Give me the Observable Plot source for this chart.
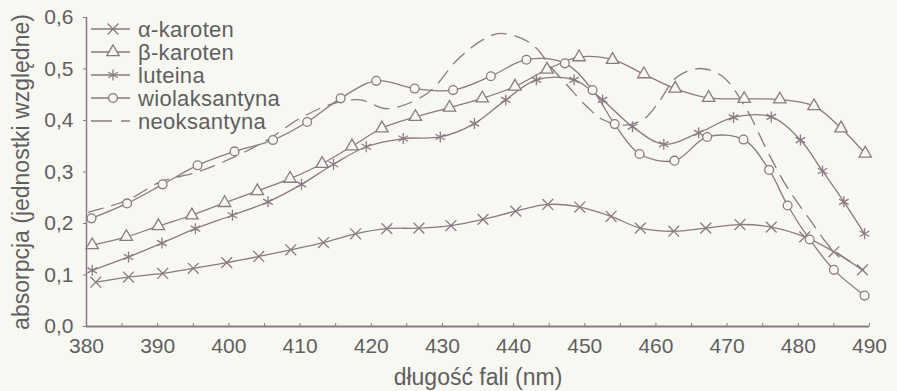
<!DOCTYPE html>
<html><head><meta charset="utf-8">
<script src="https://cdn.jsdelivr.net/npm/d3@7"></script>
<script src="https://cdn.jsdelivr.net/npm/@observablehq/plot@0.6"></script>
<style>
html,body{margin:0;padding:0;background:#f8f8f3;}
#chart{position:relative;width:897px;height:391px;overflow:hidden;}
#chart svg{display:block;}
#legend{position:absolute;left:0;top:0;}
</style></head><body><div id="chart"></div>
<script>
// ---- data (wavelength in nm, relative absorbance) ----
const alphaNm  = [381.3,385.9,390.7,395.0,399.7,404.2,408.7,413.3,417.8,422.2,426.7,431.2,435.7,440.3,444.8,449.3,453.7,457.8,462.5,467.0,471.8,476.2,480.9,485.0,489.0];
const alphaAbs = [0.086,0.096,0.103,0.113,0.124,0.136,0.149,0.163,0.180,0.190,0.191,0.196,0.208,0.224,0.237,0.232,0.214,0.191,0.185,0.191,0.198,0.193,0.174,0.145,0.110];

const betaNm   = [380.8,385.6,390.1,394.8,399.4,404.0,408.6,413.1,417.3,421.5,426.2,431.0,435.6,440.2,444.7,449.2,453.9,458.3,462.7,467.4,472.4,477.4,482.2,486.0,489.4];
const betaAbs  = [0.158,0.174,0.195,0.216,0.240,0.263,0.287,0.316,0.350,0.385,0.407,0.425,0.443,0.466,0.499,0.523,0.518,0.490,0.462,0.444,0.442,0.441,0.428,0.385,0.336];

const lutNm    = [380.8,385.9,390.6,395.3,400.5,405.5,410.2,414.7,419.3,424.5,429.7,434.5,438.9,443.2,448.5,452.5,456.7,461.1,466.0,470.9,476.2,480.3,483.4,486.4,489.3];
const lutAbs   = [0.109,0.135,0.162,0.190,0.216,0.242,0.276,0.315,0.349,0.365,0.368,0.394,0.440,0.479,0.479,0.440,0.388,0.354,0.376,0.406,0.407,0.362,0.302,0.242,0.180];

const wioNm    = [380.7,385.7,390.7,395.6,400.8,406.2,411.0,415.7,420.7,426.1,431.5,436.8,441.8,447.2,451.1,454.2,457.7,462.6,467.2,472.3,475.9,478.5,481.6,485.0,489.3];
const wioAbs   = [0.210,0.239,0.276,0.313,0.340,0.362,0.397,0.443,0.477,0.462,0.459,0.486,0.518,0.511,0.459,0.393,0.335,0.322,0.368,0.363,0.304,0.235,0.169,0.110,0.060];

const neoNm    = [380.3,385.7,390.4,395.6,400.7,405.4,410.1,414.7,418.5,422.3,427.9,432.1,435.6,438.2,442.4,445.6,447.5,450.3,452.5,455.7,458.5,460.4,463.0,466.2,469.4,472.8,475.6,478.4,481.7,484.5,487.8,489.2];
const neoAbs   = [0.222,0.245,0.281,0.300,0.329,0.362,0.405,0.433,0.440,0.423,0.453,0.518,0.556,0.569,0.550,0.498,0.469,0.427,0.402,0.391,0.405,0.436,0.485,0.501,0.485,0.420,0.342,0.271,0.206,0.154,0.122,0.109];

const seriesNames = ["α-karoten", "β-karoten", "luteina", "wiolaksantyna", "neoksantyna"];
const xTicks = [380,390,400,410,420,430,440,450,460,470,480,490];
const xMinorTicks = [380,385,390,395,400,405,410,415,420,425,430,435,440,445,450,455,460,465,470,475,480,485,490];
const yTicks = [0,0.1,0.2,0.3,0.4,0.5,0.6];
const xLabel = "długość fali (nm)";
const yLabel = "absorpcja (jednostki względne)";

// ---- build tables ----
const toRows = (xs, ys, name) => xs.map((x, i) => ({nm: x, abs: ys[i], series: name}));
const alpha = toRows(alphaNm, alphaAbs, seriesNames[0]);
const beta  = toRows(betaNm, betaAbs, seriesNames[1]);
const lut   = toRows(lutNm, lutAbs, seriesNames[2]);
const wio   = toRows(wioNm, wioAbs, seriesNames[3]);
const neo   = toRows(neoNm, neoAbs, seriesNames[4]);

const ink = "#8a7a83";
const textInk = "#5f5f5f";
const bg = "#f8f8f3";
const font = "'Liberation Sans', Arial, sans-serif";
const lw = 1.3;
const dash = "15,9";
const marker = {times: 5, triangle: 4.6, asterisk: 5.2, circle: 4.4};

const fmt = v => v.toFixed(1).replace(".", ",");

const chart = Plot.plot({
  width: 897,
  height: 391,
  marginLeft: 86,
  marginRight: 28,
  marginTop: 17,
  marginBottom: 65,
  style: {background: bg, fontFamily: font, color: textInk, overflow: "visible"},
  x: {domain: [380, 490]},
  y: {domain: [0, 0.6]},
  marks: [
    Plot.axisY({ticks: yTicks, tickSize: 3, tickPadding: 10, tickFormat: fmt, fontSize: 21, stroke: ink, fill: textInk, label: null}),
    Plot.axisX({ticks: xTicks, tickSize: 0, tickPadding: 12, tickFormat: d => String(d), fontSize: 21, fill: textInk, label: null}),
    Plot.axisX({ticks: xMinorTicks, tickSize: -3, tickFormat: () => "", stroke: ink, label: null}),
    Plot.ruleX([380], {stroke: ink, strokeWidth: 1.5}),
    Plot.ruleY([0], {stroke: ink, strokeWidth: 2}),
    Plot.line(alpha, {x: "nm", y: "abs", curve: "catmull-rom", stroke: ink, strokeWidth: lw}),
    Plot.line(beta,  {x: "nm", y: "abs", curve: "catmull-rom", stroke: ink, strokeWidth: lw}),
    Plot.line(lut,   {x: "nm", y: "abs", curve: "catmull-rom", stroke: ink, strokeWidth: lw}),
    Plot.line(wio,   {x: "nm", y: "abs", curve: "catmull-rom", stroke: ink, strokeWidth: lw}),
    Plot.line(neo,   {x: "nm", y: "abs", curve: "catmull-rom", stroke: ink, strokeWidth: lw, strokeDasharray: dash}),
    Plot.dot(alpha, {x: "nm", y: "abs", symbol: "times", r: marker.times, stroke: ink, strokeWidth: lw}),
    Plot.dot(beta,  {x: "nm", y: "abs", symbol: "triangle", r: marker.triangle, stroke: ink, fill: bg, strokeWidth: lw}),
    Plot.dot(lut,   {x: "nm", y: "abs", symbol: "asterisk", r: marker.asterisk, stroke: ink, strokeWidth: lw}),
    Plot.dot(wio,   {x: "nm", y: "abs", symbol: "circle", r: marker.circle, stroke: ink, fill: bg, strokeWidth: lw}),
    Plot.text([xLabel], {frameAnchor: "bottom", dy: 51, lineAnchor: "middle", textAnchor: "middle", fontSize: 23, fill: textInk, letterSpacing: "0.3px"}),
    Plot.text([yLabel], {frameAnchor: "left", dx: -65, rotate: -90, lineAnchor: "middle", textAnchor: "middle", fontSize: 23, fill: textInk, letterSpacing: "0.2px"})
  ]
});
document.getElementById("chart").appendChild(chart);

// ---- legend (inside the plot, top-left) ----
const legendItems = [
  {name: seriesNames[0], symbol: d3.symbolTimes, r: marker.times, fill: "none", dashed: false},
  {name: seriesNames[1], symbol: d3.symbolTriangle, r: marker.triangle, fill: bg, dashed: false},
  {name: seriesNames[2], symbol: d3.symbolAsterisk, r: marker.asterisk, fill: "none", dashed: false},
  {name: seriesNames[3], symbol: d3.symbolCircle, r: marker.circle, fill: bg, dashed: false},
  {name: seriesNames[4], symbol: null, r: 0, fill: "none", dashed: true}
];
const leg = d3.select("#chart").append("svg")
  .attr("id", "legend").attr("width", 360).attr("height", 140)
  .style("font-family", font);
const rowY = i => 29 + i * 23;
const g = leg.selectAll("g").data(legendItems).join("g")
  .attr("transform", (d, i) => `translate(0,${rowY(i)})`);
g.append("line").attr("x1", 91).attr("x2", 130).attr("y1", 0).attr("y2", 0)
  .attr("stroke", ink).attr("stroke-width", lw)
  .attr("stroke-dasharray", d => d.dashed ? "21,9" : null);
g.filter(d => d.symbol).append("path")
  .attr("transform", "translate(113,0)")
  .attr("d", d => d3.symbol(d.symbol, Math.PI * d.r * d.r)())
  .attr("stroke", ink).attr("stroke-width", lw).attr("fill", d => d.fill);
g.append("text").attr("x", 138).attr("y", 0).attr("dy", "0.35em")
  .attr("font-size", 22).attr("letter-spacing", "0.3px").attr("fill", textInk)
  .text(d => d.name);
</script>
</body></html>
